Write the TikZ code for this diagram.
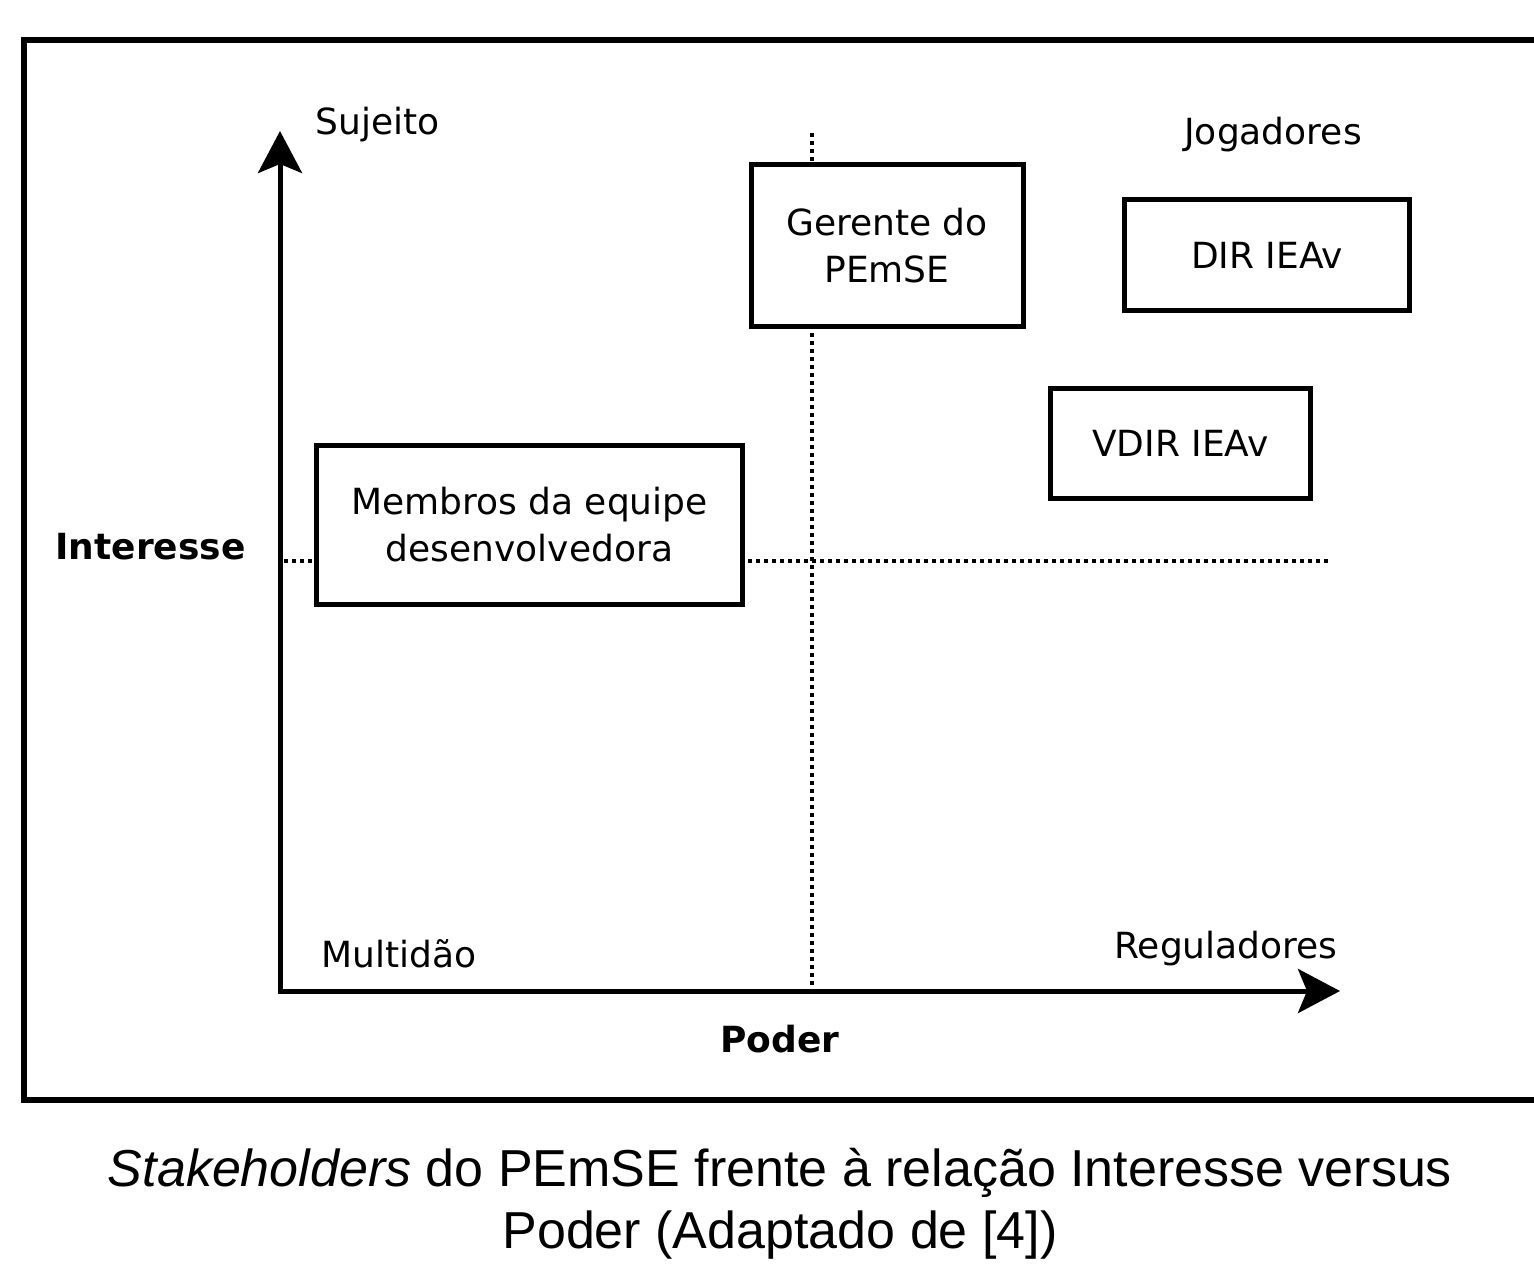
\documentclass[tikz,border=0pt]{standalone}
\usepackage{fontspec}
\setmainfont{DejaVu Sans}
\newfontfamily\capfont{Liberation Sans}
\usetikzlibrary{arrows.meta}

\tikzset{
  quadro/.style={draw, line width=2.5pt, fill=white, align=center, inner sep=0pt},
  rotulo/.style={inner sep=0pt},
  negrito/.style={font=\fontsize{18}{23.5}\selectfont\bfseries},
  divisa/.style={line width=2pt, dash pattern=on 2pt off 2pt},
}

\begin{document}
\begin{tikzpicture}[x=0.5pt,y=-0.5pt,>={Stealth[length=21pt,width=22pt,inset=4.5pt]},line join=miter,font=\fontsize{18}{23.5}\selectfont]
 \useasboundingbox (0,0) rectangle (1534,1267);
 % moldura
 \draw[line width=2.75pt] (1540,40) -- (24,40) -- (24,1100) -- (1540,1100);
 % eixos
 \coordinate (O) at (280,991);
 \coordinate (ytopo) at (280,131);
 \coordinate (xfim) at (1340,991);
 \draw[line width=2.5pt,<->] (ytopo) -- (O) -- (xfim);
 % linhas divisorias
 \coordinate (hesq) at (284,561);
 \coordinate (hdir) at (1330,561);
 \coordinate (vtopo) at (812,133);
 \coordinate (vbase) at (812,988);
 \draw[divisa] (hesq) -- (hdir);
 \draw[divisa] (vtopo) -- (vbase);
 % stakeholders
 \node[quadro, minimum width=136pt, minimum height=80.5pt] (gerente) at (887,245.5) {Gerente do\\PEmSE};
 \node[quadro, minimum width=142.5pt, minimum height=55.5pt] (dir) at (1267,255) {DIR IEAv};
 \node[quadro, minimum width=130pt, minimum height=55pt] (vdir) at (1180.5,443.5) {VDIR IEAv};
 \node[quadro, minimum width=213pt, minimum height=79.5pt] (membros) at (529.5,525) {Membros da equipe\\desenvolvedora};
 % quadrantes e eixos
 \node[rotulo, anchor=base west] (sujeito) at (315,135) {Sujeito};
 \node[rotulo, anchor=base] (jogadores) at (1273,145) {Jogadores};
 \node[rotulo, anchor=base west] (multidao) at (321,967) {Multidão};
 \node[rotulo, anchor=base east] (reguladores) at (1338,958) {Reguladores};
 \node[rotulo, negrito, anchor=base] (interesse) at (150.5,559) {Interesse};
 \node[rotulo, negrito, anchor=base] (poder) at (780,1052) {Poder};
 % legenda
 \node[rotulo, anchor=base, font=\capfont\fontsize{26}{30}\selectfont] (leg1) at (780,1186) {\textit{Stakeholders} do PEmSE frente à relação Interesse versus};
 \node[rotulo, anchor=base, font=\capfont\fontsize{26}{30}\selectfont] (leg2) at (780,1248) {Poder (Adaptado de [4])};
\end{tikzpicture}
\end{document}
